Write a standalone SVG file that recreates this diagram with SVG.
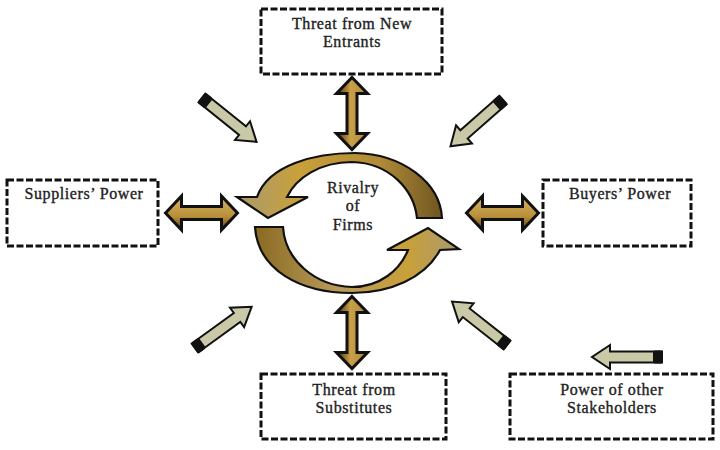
<svg xmlns="http://www.w3.org/2000/svg" width="720" height="450" viewBox="0 0 720 450">
<style>
.box{fill:#fff;stroke:#111;stroke-width:3;stroke-dasharray:7 2.5}
.lbl{font-family:"Liberation Serif","DejaVu Serif",serif;font-size:16px;letter-spacing:0.6px;fill:#222;stroke:#222;stroke-width:0.35;text-anchor:middle}
.dbl{stroke:#111;stroke-width:3;stroke-linejoin:miter}
.cyc{stroke:#111;stroke-width:2.2;stroke-linejoin:miter}
</style>
<defs>
<linearGradient id="gv" x1="0" y1="0" x2="1" y2="0">
<stop offset="0" stop-color="#4a2e0c"/><stop offset="0.45" stop-color="#c9a048"/><stop offset="1" stop-color="#b08a3a"/>
</linearGradient>
<linearGradient id="gh" x1="0" y1="0" x2="0" y2="1">
<stop offset="0" stop-color="#d8b460"/><stop offset="0.6" stop-color="#b8903c"/><stop offset="1" stop-color="#5a3c10"/>
</linearGradient>
<linearGradient id="gc1" x1="0" y1="0" x2="1" y2="0">
<stop offset="0" stop-color="#a89a70"/><stop offset="0.3" stop-color="#c9a03a"/><stop offset="0.7" stop-color="#b08a38"/><stop offset="1" stop-color="#6e5520"/>
</linearGradient>
<linearGradient id="gc2" x1="0" y1="0" x2="1" y2="0">
<stop offset="0" stop-color="#8a6a22"/><stop offset="0.4" stop-color="#b89a5a"/><stop offset="0.75" stop-color="#c9a03a"/><stop offset="1" stop-color="#a89a70"/>
</linearGradient>
<g id="pen">
<path d="M0,-5.5 L52,-5.5 L52,-12 L70,0 L52,12 L52,5.5 L0,5.5 Z" fill="#c9c9a8" stroke="#111" stroke-width="2" stroke-linejoin="miter"/>
<rect x="-1" y="-6.5" width="10" height="13" rx="2" fill="#111"/>
</g>
<path id="dv" d="M0,-36 L15.5,-20 L5,-20 L5,20 L15.5,20 L0,36 L-15.5,20 L-5,20 L-5,-20 L-15.5,-20 Z"/>
<path id="dh" d="M-36,0 L-20,-17 L-20,-6.5 L20,-6.5 L20,-17 L36,0 L20,17 L20,6.5 L-20,6.5 L-20,17 Z"/>
</defs>
<rect width="720" height="450" fill="#fff"/>
<g id="connectors">
<use href="#dv" class="dbl" fill="url(#gv)" transform="translate(352,113.5)"/>
<use href="#dv" class="dbl" fill="url(#gv)" transform="translate(352,332.5)"/>
<use href="#dh" class="dbl" fill="url(#gh)" transform="translate(201.5,213)"/>
<use href="#dh" class="dbl" fill="url(#gh)" transform="translate(502.5,213)"/>
<use href="#pen" transform="translate(202,98) rotate(38.8)"/>
<use href="#pen" transform="translate(503,100) rotate(138.6)"/>
<use href="#pen" transform="translate(195,348) rotate(-36)"/>
<use href="#pen" transform="translate(507,345) rotate(-141.7)"/>
<use href="#pen" transform="translate(662,357) rotate(180)"/>
</g>
<g id="rivalry">
<path class="cyc" fill="url(#gc1)" d="M257,197 C268,165 315,153 355,153 C402,154 440,182 442,218 L417,218 C414,190 390,163 352,162 C320,162 296,178 287,197 L308,197 L268,218 L237,197 Z"/>
<path class="cyc" fill="url(#gc2)" d="M255,227 L283,227 C285,260 315,286 352,287 C380,287 400,270 408,250 L387,250 L428,228 L459,249 L440,250 C425,278 390,293 352,293 C300,293 258,270 255,227 Z"/>
<text class="lbl" x="353" y="193">Rivalry</text>
<text class="lbl" x="353" y="211">of</text>
<text class="lbl" x="353" y="230">Firms</text>
</g>
<g id="new-entrants">
<rect class="box" x="261" y="9" width="181" height="65"/>
<text class="lbl" x="352" y="29">Threat from New</text>
<text class="lbl" x="352" y="47">Entrants</text>
</g>
<g id="suppliers">
<rect class="box" x="7" y="180" width="151" height="66"/>
<text class="lbl" x="84" y="199">Suppliers’ Power</text>
</g>
<g id="buyers">
<rect class="box" x="543" y="180" width="148" height="66"/>
<text class="lbl" x="620" y="199">Buyers’ Power</text>
</g>
<g id="substitutes">
<rect class="box" x="261" y="374" width="185" height="65"/>
<text class="lbl" x="354" y="395">Threat from</text>
<text class="lbl" x="354" y="413">Substitutes</text>
</g>
<g id="stakeholders">
<rect class="box" x="510" y="374" width="203" height="65"/>
<text class="lbl" x="612" y="395">Power of other</text>
<text class="lbl" x="612" y="413">Stakeholders</text>
</g>
</svg>
